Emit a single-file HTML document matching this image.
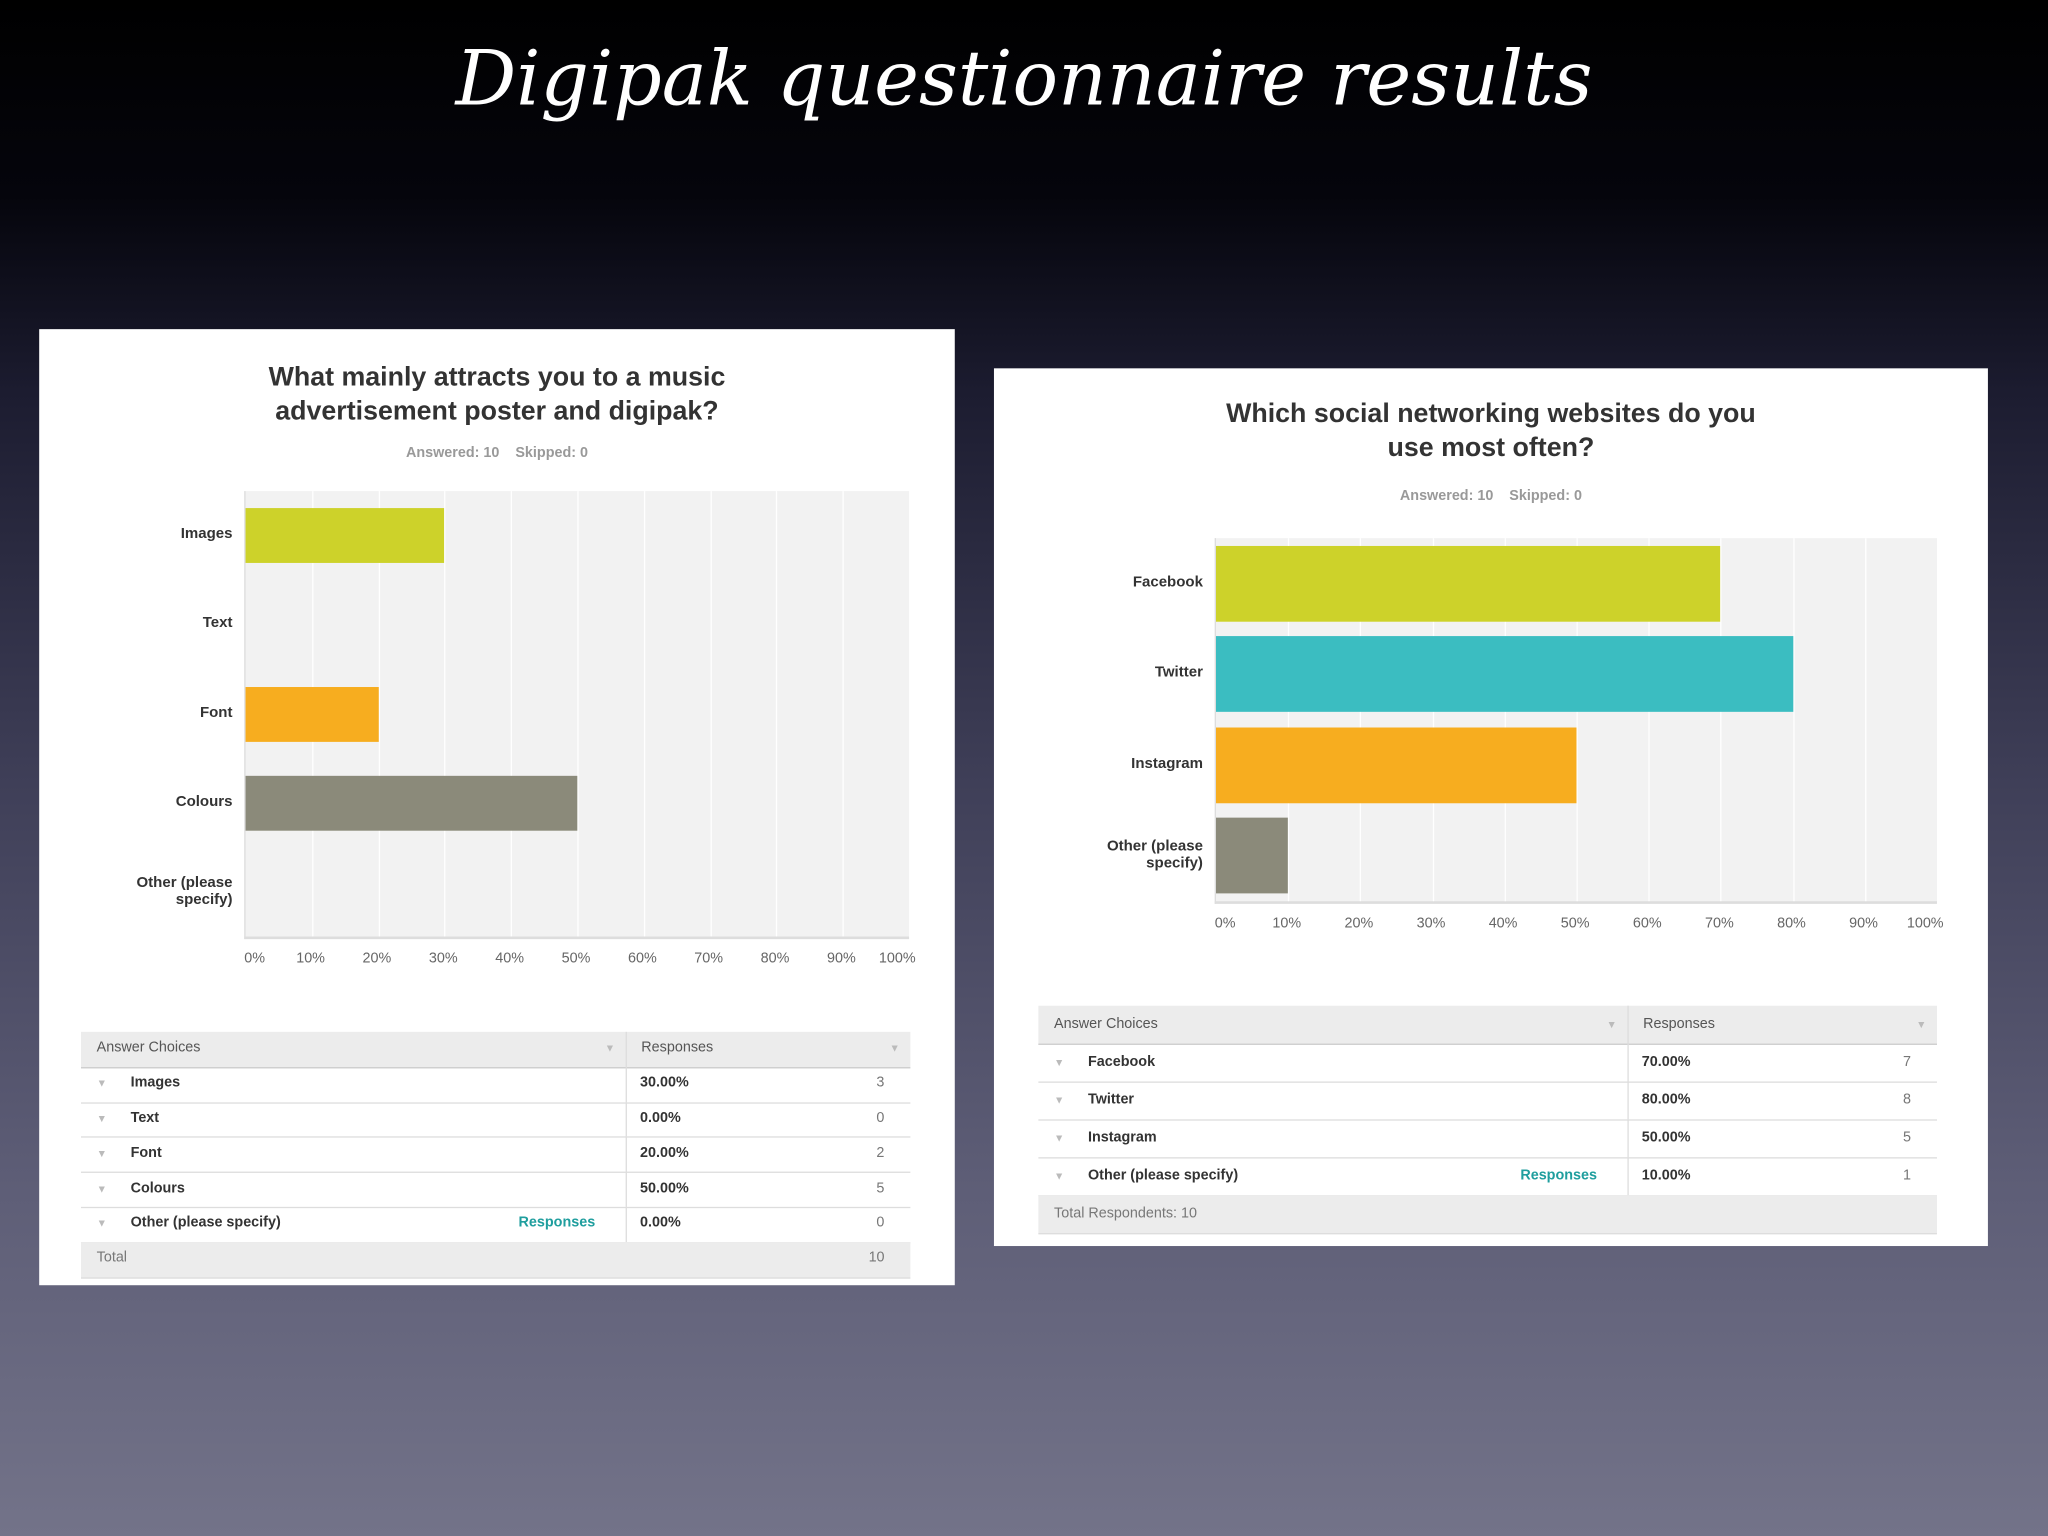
<!DOCTYPE html>
<html><head><meta charset="utf-8"><style>
html,body{margin:0;padding:0;width:2048px;height:1536px;overflow:hidden}
#stage{position:absolute;left:0;top:0;width:1568px;height:1176px;transform:scale(1.306122);transform-origin:0 0;
background:linear-gradient(180deg,#000 0px,#05050c 150px,#1c1c30 300px,#3f3f58 600px,#5d5d76 900px,#737389 1176px);font-family:"Liberation Sans",sans-serif}
.title{position:absolute;left:0;width:1568px;top:26px;text-align:center;color:#fff;font-size:58px;font-style:italic;font-family:"URW Chancery L","Z003",cursive,"DejaVu Serif",serif}
.panel{position:absolute;background:#fff}
.abs{position:absolute}
.ct{position:absolute;text-align:center;font-weight:bold;color:#333;font-size:20.5px;line-height:26px}
.ans{position:absolute;text-align:center;color:#999;font-size:11px;font-weight:bold}
.lbl{position:absolute;text-align:right;font-size:11.5px;font-weight:bold;color:#333;line-height:13px}
.tick{position:absolute;font-size:11px;color:#666;text-align:center;width:40px}
.row{position:absolute;font-size:11px;color:#333;border-bottom:1px solid #ddd}
</style></head><body>
<div id="stage">
<div class="title">Digipak questionnaire results</div>
</div>
<script>
const cats1=["Images","Text","Font","Colours","Other (please<br>specify)"];
const vals1=[30,0,20,50,0];
const counts1=[3,0,2,5,0];
const cats2=["Facebook","Twitter","Instagram","Other (please<br>specify)"];
const vals2=[70,80,50,10];
const counts2=[7,8,5,1];
const colors1=["#cdd22a","#3bbdc1","#f7ad1f","#8b8a7a","#8b8a7a"];
const colors2=["#cdd22a","#3bbdc1","#f7ad1f","#8b8a7a"];
const ticks=["0%","10%","20%","30%","40%","50%","60%","70%","80%","90%","100%"];
const stage=document.getElementById('stage');
function mk(parent,cls,css,html){const e=document.createElement('div');if(cls)e.className=cls;e.style.cssText=css;if(html!==undefined)e.innerHTML=html;parent.appendChild(e);return e;}
function chart(o){
 const p=mk(stage,'panel',`left:${o.x}px;top:${o.y}px;width:${o.w}px;height:${o.h}px`);
 
 const t=mk(p,'ct',`left:0;width:${o.w}px;top:${o.ty}px`,o.title);
 
 const a=mk(p,'ans',`left:0;width:${o.w}px;top:${o.ay}px`,'Answered: 10 &nbsp;&nbsp; Skipped: 0');
 
 const pl=mk(p,'abs',`left:${o.px}px;top:${o.py}px;width:${o.pw}px;height:${o.ph}px;background:#f2f2f2;border-left:1px solid #ddd;border-bottom:2px solid #ddd`);
 
 const xs=v=>v/100*o.pw;
 for(let i=1;i<10;i++){const g=mk(pl,'abs',`left:${xs(i*10)}px;top:0;width:1px;height:${o.ph}px;background:#fff`);}
 const band=o.ph/o.cats.length;
 o.cats.forEach((c,i)=>{
  const cy=band*(i+0.5);
  if(o.vals[i]>0){const b=mk(pl,'abs',`left:0;top:${cy-o.bh/2}px;width:${xs(o.vals[i])}px;height:${o.bh}px;background:${o.colors[i]}`);
   }
  const l=mk(p,'lbl',`left:${o.px-130}px;width:121px;top:${o.py+cy-(c.includes('<br>')?13:7)}px`,c);
  
 });
 ticks.forEach((tk,i)=>{const e=mk(p,'tick',`left:${o.px+xs(i*10)-20+(i==0?8:0)+(i==10?-8:0)}px;top:${o.py+o.ph+11}px`,tk);});
 const tb=mk(p,'abs',`left:${o.tx}px;top:${o.tyy}px;width:${o.tw}px`);
 
 const hd=mk(tb,'row',`left:0;top:0;width:${o.tw}px;height:${o.rh}px;background:#ececec;color:#555;border-bottom:1px solid #ccc`);
 
 mk(hd,'abs',`left:12px;top:${o.rh/2-7}px`,'Answer Choices');
 mk(hd,'abs',`left:${o.split+12}px;top:${o.rh/2-7}px`,'Responses');
 mk(hd,'abs',`left:${o.split}px;top:0;width:1px;height:${o.rh}px;background:#ddd`);
 mk(hd,'abs',`left:${o.split-16}px;top:${o.rh/2-5}px;color:#bbb;font-size:8px`,'▼');
 mk(hd,'abs',`left:${o.tw-16}px;top:${o.rh/2-5}px;color:#bbb;font-size:8px`,'▼');
 o.names.forEach((n,i)=>{
  const r=mk(tb,'row',`left:0;top:${o.rh*(i+1)}px;width:${o.tw}px;height:${o.rh}px;font-weight:bold`);
  
  mk(r,'abs',`left:12px;top:${o.rh/2-5}px;color:#bbb;font-size:8px;font-weight:normal`,'▼');
  mk(r,'abs',`left:38px;top:${o.rh/2-7}px`,n);
  if(n.startsWith('Other')){const lk=mk(r,'abs',`left:${o.split-82}px;top:${o.rh/2-7}px;color:#1f9e9e`,'Responses');}
  mk(r,'abs',`left:${o.split}px;top:0;width:1px;height:${o.rh}px;background:#ddd`);
  mk(r,'abs',`left:${o.split+11}px;top:${o.rh/2-7}px`,o.vals[i].toFixed(2)+'%');
  mk(r,'abs',`left:${o.tw-26}px;top:${o.rh/2-7}px;color:#777;font-weight:normal`,o.counts[i]);
 });
 const ft=mk(tb,'row',`left:0;top:${o.rh*(o.names.length+1)}px;width:${o.tw}px;height:${o.rh}px;background:#ececec;color:#777`);
 
 mk(ft,'abs',`left:12px;top:${o.rh/2-7}px`,o.foot);
 if(o.total)mk(ft,'abs',`left:${o.tw-32}px;top:${o.rh/2-7}px`,o.total);
}
chart({name:'attracts',x:30,y:252,w:701,h:732,ty:24,ay:89,title:'What mainly attracts you to a music<br>advertisement poster and digipak?',
 px:157,py:124,pw:508,ph:341,bh:42,cats:cats1,vals:vals1,colors:colors1,counts:counts1,
 names:["Images","Text","Font","Colours","Other (please specify)"],tx:32,tyy:538,tw:635,rh:26.8,split:417,foot:'Total',total:'10'});
chart({name:'social',x:761,y:282,w:761,h:672,ty:22,ay:92,title:'Which social networking websites do you<br>use most often?',
 px:169,py:130,pw:552,ph:278,bh:58,cats:cats2,vals:vals2,colors:colors2,counts:counts2,
 names:["Facebook","Twitter","Instagram","Other (please specify)"],tx:34,tyy:488,tw:688,rh:29,split:451,foot:'Total Respondents: 10',total:''});
</script>
</body></html>
